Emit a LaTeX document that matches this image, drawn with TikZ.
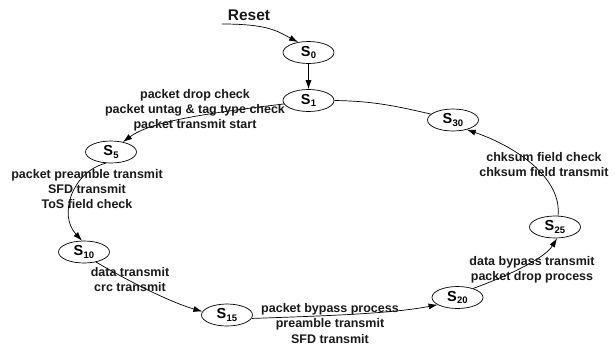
\documentclass[tikz,border=0pt]{standalone}
\usepackage{fontspec}
\setmainfont{Liberation Sans}
\usetikzlibrary{shapes.geometric,arrows.meta}
\newcommand{\stname}[1]{S\kern0.3pt\raisebox{-0.28ex}{\fontsize{9.5}{9.5}\selectfont #1}}
\tikzset{
  state/.style={ellipse, draw=black, line width=0.7pt, minimum width=51pt, minimum height=22pt, inner sep=0pt, font=\bfseries\fontsize{14.5}{15}\selectfont},
  lbl/.style={align=center, inner sep=0pt, text=black!90, font=\bfseries\fontsize{12.5}{15.2}\selectfont},
  arr/.style={draw=black, line width=0.7pt, -{Latex[length=9pt,width=6pt]}},
  plain/.style={draw=black, line width=0.7pt}
}
\begin{document}
\begin{tikzpicture}[x=1pt,y=-1pt]
\useasboundingbox (0,0) rectangle (616,349);
% states
\node[state] (s0) at (308.5,52.5) {\stname{0}};
\node[state] (s1) at (308.5,100.5) {\stname{1}};
\node[state] (s30) at (453,120) {\stname{30}};
\node[state] (s5) at (111,152) {\stname{5}};
\node[state] (s10) at (84,252) {\stname{10}};
\node[state] (s15) at (227,315) {\stname{15}};
\node[state] (s20) at (457.5,297.5) {\stname{20}};
\node[state] (s25) at (555,227) {\stname{25}};
% reset
\node[font=\bfseries\fontsize{15.5}{15.5}\selectfont, text=black!90, inner sep=0pt] (reset) at (249,15) {Reset};
\coordinate (rst) at (222,24);
% connectors
\draw[arr] (rst) .. controls (268,24) and (277,31) .. (s0.135);
\draw[arr] (s0) -- (s1);
\draw[arr] (s1.188) .. controls (200,114) and (150,122) .. (s5.40);
\draw[arr] (s5.245) .. controls (72,172) and (58,215) .. (s10.100);
\draw[arr] (s10.-40) .. controls (130,282) and (170,302) .. (s15.172);
\draw[arr] (s15.-8) .. controls (320,316) and (390,314) .. (s20.200);
\draw[arr] (s20.30) .. controls (510,275) and (545,258) .. (s25.-80);
\draw[arr] (s25.75) .. controls (562,180) and (520,148) .. (s30.-35);
\draw[plain] (s1.east) .. controls (375,101) and (400,107) .. (s30.165);
% labels
\node[lbl] (l1) at (195,110) {packet drop check\\packet untag \& tag type check\\packet transmit start};
\node[lbl] (l2) at (87,189) {packet preamble transmit\\SFD transmit\\ToS field check};
\node[lbl] (l3) at (130,279.5) {data transmit\\crc transmit};
\node[lbl] (l4) at (330,323.5) {packet bypass process\\preamble transmit\\SFD transmit};
\node[lbl] (l5) at (532,269.5) {data bypass transmit\\packet drop process};
\node[lbl] (l6) at (544,164.5) {chksum field check\\chksum field transmit};
\end{tikzpicture}
\end{document}
